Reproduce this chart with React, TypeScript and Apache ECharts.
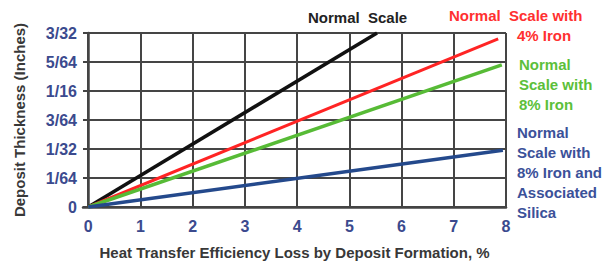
import React, { useEffect, useRef } from "react";
import * as echarts from "echarts";

// Deposit thickness in 64ths of an inch vs. heat transfer efficiency loss (%)
const X_TICKS = [0, 1, 2, 3, 4, 5, 6, 7, 8];
const Y_TICK_LABELS = ["0", "1/64", "1/32", "3/64", "1/16", "5/64", "3/32"];

const normalScale = [[0, 0], [5.53, 6]];
const scale4Iron = [[0, 0], [7.85, 5.8]];
const scale8Iron = [[0, 0], [7.92, 4.9]];
const scale8IronSilica = [[0, 0], [7.94, 1.96]];

const SERIES_NAMES = [
  "Normal  Scale",
  "Normal  Scale with 4% Iron",
  "Normal Scale with 8% Iron",
  "Normal Scale with 8% Iron and Associated Silica",
];

const FONT = "'Liberation Sans', Arial, sans-serif";
const TICK_BLUE = "#3b4a8e";
const GRID = "#454545";

export default function App() {
  const ref = useRef<HTMLDivElement>(null);
  useEffect(() => {
    if (!ref.current) return;
    const chart = echarts.init(ref.current, null, { renderer: "svg" });
    const lineSeries = (name: string, data: number[][], color: string, width: number) => ({
      name,
      type: "line",
      data,
      symbol: "none",
      lineStyle: { color, width },
      z: 5,
    });
    const txt = { fontSize: 15, fontWeight: "bold", fontFamily: FONT };
    chart.setOption({
      animation: false,
      backgroundColor: "#ffffff",
      grid: { left: 83, right: 99, top: 33, bottom: 58 },
      xAxis: {
        type: "value",
        min: -0.1,
        max: 8,
        name: "Heat Transfer Efficiency Loss by Deposit Formation, %",
        nameLocation: "middle",
        nameGap: 38,
        nameTextStyle: { color: "#383838", ...txt },
        axisLine: { show: true, lineStyle: { color: "#444", width: 2.5 } },
        axisTick: { show: false, customValues: X_TICKS },
        axisLabel: {
          customValues: X_TICKS,
          color: TICK_BLUE,
          fontSize: 16,
          fontWeight: "bold",
          fontFamily: FONT,
          margin: 11,
        },
        splitLine: { show: true, lineStyle: { color: GRID, width: 2 } },
      },
      yAxis: {
        type: "value",
        min: 0,
        max: 6,
        interval: 1,
        name: "Deposit Thickness (Inches)",
        nameLocation: "middle",
        nameGap: 56,
        nameTextStyle: { color: "#383838", ...txt },
        axisLine: { show: true, lineStyle: { color: "#444", width: 2.5 } },
        axisTick: { show: true, length: 4, lineStyle: { color: "#444", width: 2 } },
        axisLabel: {
          formatter: (v: number) => Y_TICK_LABELS[Math.round(v)] ?? "",
          color: TICK_BLUE,
          fontSize: 16,
          fontWeight: "bold",
          fontFamily: FONT,
          margin: 6,
        },
        splitLine: { show: true, lineStyle: { color: GRID, width: 2 } },
      },
      series: [
        lineSeries(SERIES_NAMES[0], normalScale, "#111111", 3.5),
        lineSeries(SERIES_NAMES[1], scale4Iron, "#ff2424", 3),
        lineSeries(SERIES_NAMES[2], scale8Iron, "#57bb36", 3.5),
        lineSeries(SERIES_NAMES[3], scale8IronSilica, "#24498c", 3.5),
      ],
      graphic: [
        {
          type: "text",
          left: 308,
          top: 10,
          style: { text: "Normal  Scale", fill: "#222", ...txt },
        },
        {
          type: "text",
          left: 449,
          top: 8,
          style: { text: "Normal  Scale with", fill: "#ff3030", ...txt },
        },
        {
          type: "text",
          left: 517,
          top: 28,
          style: { text: "4% Iron", fill: "#ff3030", ...txt },
        },
        {
          type: "text",
          left: 519,
          top: 54,
          style: { text: "Normal\nScale with\n8% Iron", fill: "#5cbf3a", lineHeight: 20, ...txt },
        },
        {
          type: "text",
          left: 517,
          top: 122,
          style: {
            text: "Normal\nScale with\n8% Iron and\nAssociated\nSilica",
            fill: "#3b5199",
            lineHeight: 20,
            ...txt,
          },
        },
      ],
    });
    return () => chart.dispose();
  }, []);
  return (
    <div
      ref={ref}
      style={{ position: "fixed", left: 0, top: 0, width: 605, height: 265 }}
    />
  );
}
